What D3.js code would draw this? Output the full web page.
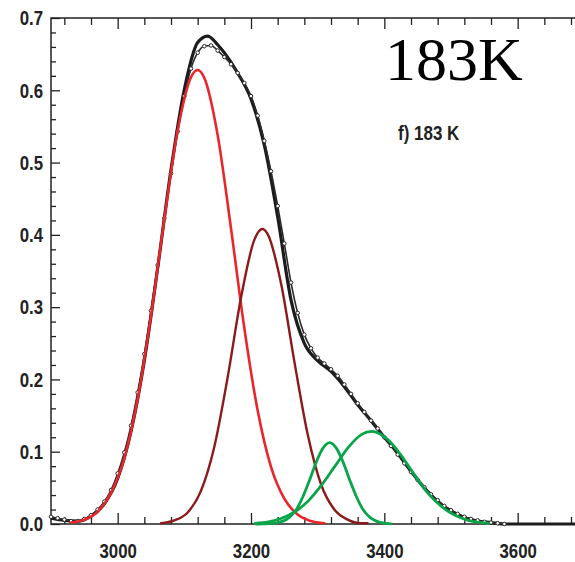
<!DOCTYPE html>
<html>
<head>
<meta charset="utf-8">
<title>183 K band fit</title>
<script src="https://d3js.org/d3.v7.min.js"></script>
<style>
  body { margin: 0; background: #fff; }
  .axis text { font-family: "Liberation Sans Narrow", "Liberation Sans", Arial, sans-serif; font-weight: bold; font-size: 20px; fill: #222; }
  .axis line { stroke: #222; stroke-width: 1.3px; }
  .axis .domain { display: none; }
</style>
</head>
<body>
<div id="cont"></div>
<script>
// fitted envelope (black line)
var fitX = [2900, 2920, 2940, 2960, 2980, 3000, 3020, 3040, 3060, 3080, 3100, 3120, 3135, 3150, 3160, 3180, 3200, 3220, 3240, 3260, 3280, 3300, 3320, 3340, 3360, 3380, 3400, 3420, 3440, 3460, 3480, 3500, 3520, 3540, 3560, 3580, 3620, 3700];
var fitY = [0.008, 0.005, 0.004, 0.011, 0.028, 0.063, 0.128, 0.226, 0.354, 0.490, 0.601, 0.666, 0.675, 0.663, 0.652, 0.624, 0.588, 0.524, 0.425, 0.310, 0.250, 0.226, 0.211, 0.190, 0.165, 0.143, 0.120, 0.098, 0.073, 0.050, 0.031, 0.018, 0.009, 0.004, 0.002, 0, 0, 0];

// measured points (open circles)
var obsX = d3.range(2900, 3590, 10);
var obsY = [0.010, 0.008, 0.006, 0.004, 0.004, 0.007, 0.012, 0.020, 0.031, 0.047,
            0.070, 0.099, 0.136, 0.182, 0.235, 0.295, 0.358, 0.423, 0.485, 0.543,
            0.592, 0.630, 0.652, 0.661, 0.662, 0.655, 0.646, 0.636, 0.624, 0.610,
            0.592, 0.565, 0.530, 0.488, 0.440, 0.388, 0.334, 0.292, 0.262, 0.243,
            0.230, 0.222, 0.214, 0.205, 0.193, 0.180, 0.167, 0.155, 0.143, 0.132,
            0.120, 0.108, 0.096, 0.084, 0.072, 0.061, 0.051, 0.041, 0.033, 0.025,
            0.019, 0.014, 0.010, 0.007, 0.005, 0.003, 0.002, 0.001, 0.000];

// component bands
var redX = [2930, 2950, 2970, 2990, 3010, 3030, 3050, 3070, 3090, 3110, 3120, 3130, 3150, 3170, 3190, 3210, 3230, 3250, 3270, 3290, 3310];
var redY = [0.002, 0.006, 0.017, 0.043, 0.091, 0.173, 0.288, 0.422, 0.544, 0.618, 0.628, 0.617, 0.538, 0.409, 0.271, 0.157, 0.079, 0.035, 0.013, 0.004, 0.001];

var brownX = [3065, 3085, 3105, 3125, 3145, 3165, 3185, 3205, 3217, 3225, 3245, 3265, 3285, 3305, 3325, 3345, 3365, 3375];
var brownY = [0.001, 0.005, 0.016, 0.046, 0.107, 0.203, 0.313, 0.393, 0.408, 0.401, 0.333, 0.225, 0.124, 0.055, 0.020, 0.006, 0.001, 0.001];

var green1X = [3208, 3228, 3248, 3258, 3268, 3278, 3288, 3298, 3308, 3318, 3328, 3338, 3348, 3358, 3368, 3378, 3388, 3398, 3410];
var green1Y = [0.000, 0.0004, 0.004, 0.0095, 0.020, 0.038, 0.061, 0.086, 0.105, 0.1125, 0.105, 0.086, 0.061, 0.038, 0.020, 0.0095, 0.004, 0.0014, 0.0003];

var green2X = [3206, 3226, 3246, 3266, 3286, 3306, 3326, 3346, 3366, 3381, 3386, 3406, 3426, 3446, 3466, 3486, 3506, 3526, 3546, 3556];
var green2Y = [0.001, 0.003, 0.008, 0.017, 0.032, 0.054, 0.080, 0.106, 0.124, 0.128, 0.1275, 0.116, 0.094, 0.067, 0.042, 0.024, 0.012, 0.005, 0.002, 0.001];

var yMajor = [0, 0.1, 0.2, 0.3, 0.4, 0.5, 0.6, 0.7];
var xMajor = [3000, 3200, 3400, 3600];

(function() {
    var W = 575, H = 562,
        left = 51, top = 18, bottom = 524,
        squeeze = 0.8;

    var x = d3.scaleLinear().domain([2900, 3700]).range([left, left + 800 * 2 / 3]);
    var y = d3.scaleLinear().domain([0, 0.7]).range([bottom, top]);

    var svg = d3.select('#cont').append('svg')
        .attr('width', W)
        .attr('height', H);

    var xMinor = d3.range(2920, 3700, 40).filter(function(v) { return v % 200 !== 0; });
    var yMinor = d3.range(0, 71, 2).filter(function(v) { return v % 10 !== 0; }).map(function(v) { return v / 100; });

    //frame
    svg.append('path')
        .attr('d', 'M' + W + ',' + top + 'H' + left + 'V' + bottom + 'H' + W)
        .attr('fill', 'none')
        .attr('stroke', '#222')
        .attr('stroke-width', 1.5);

    //bottom axis
    svg.append('g').attr('class', 'axis')
        .attr('transform', 'translate(0,' + bottom + ')')
        .call(d3.axisBottom(x).tickValues(xMinor).tickSize(-7).tickFormat(''));
    svg.append('g').attr('class', 'axis')
        .attr('transform', 'translate(0,' + bottom + ')')
        .call(d3.axisBottom(x).tickValues(xMajor).tickSize(-11).tickPadding(19).tickFormat(d3.format('d')))
        .selectAll('text')
        .style('font-size', '21px')
        .attr('transform', 'scale(' + squeeze + ',1)');

    //top axis
    svg.append('g').attr('class', 'axis')
        .attr('transform', 'translate(0,' + top + ')')
        .call(d3.axisTop(x).tickValues(xMinor).tickSize(-7).tickFormat(''));
    svg.append('g').attr('class', 'axis')
        .attr('transform', 'translate(0,' + top + ')')
        .call(d3.axisTop(x).tickValues(xMajor).tickSize(-11).tickFormat(''));

    //left axis
    svg.append('g').attr('class', 'axis')
        .attr('transform', 'translate(' + left + ',0)')
        .call(d3.axisLeft(y).tickValues(yMinor).tickSize(-5).tickFormat(''));
    svg.append('g').attr('class', 'axis')
        .attr('transform', 'translate(' + left + ',0)')
        .call(d3.axisLeft(y).tickValues(yMajor).tickSize(-9).tickPadding(10).tickFormat(d3.format('.1f')))
        .selectAll('text')
        .style('font-size', '21px')
        .attr('transform', 'scale(' + squeeze + ',1)');

    function pts(xs, ys) {
        return xs.map(function(v, i) { return [v, ys[i]]; });
    }

    var line = d3.line()
        .x(function(d) { return x(d[0]); })
        .y(function(d) { return y(d[1]); })
        .curve(d3.curveMonotoneX);

    //fit envelope
    svg.append('path')
        .attr('d', line(pts(fitX, fitY)))
        .attr('fill', 'none')
        .attr('stroke', '#1c1c1c')
        .attr('stroke-width', 3.2);

    //measured points
    svg.append('path')
        .attr('d', line(pts(obsX, obsY)))
        .attr('fill', 'none')
        .attr('stroke', '#2a2a2a')
        .attr('stroke-width', 1.6);
    svg.append('g').selectAll('circle')
        .data(pts(obsX, obsY))
        .enter()
        .append('circle')
        .attr('cx', function(d) { return x(d[0]); })
        .attr('cy', function(d) { return y(d[1]); })
        .attr('r', 1.8)
        .attr('fill', '#fff')
        .attr('stroke', '#2a2a2a')
        .attr('stroke-width', 1);

    var comps = [
        { xs: redX, ys: redY, color: '#e8262b', w: 2.6 },
        { xs: brownX, ys: brownY, color: '#8b1a1a', w: 2.4 },
        { xs: green1X, ys: green1Y, color: '#0aa54b', w: 2.8 },
        { xs: green2X, ys: green2Y, color: '#0aa54b', w: 2.8 }
    ];
    comps.forEach(function(c) {
        svg.append('path')
            .attr('d', line(pts(c.xs, c.ys)))
            .attr('fill', 'none')
            .attr('stroke', c.color)
            .attr('stroke-width', c.w)
            .attr('stroke-linecap', 'round');
    });

    //labels
    svg.append('text')
        .attr('x', 385)
        .attr('y', 80)
        .style('font-family', '"Liberation Serif", "Times New Roman", serif')
        .style('font-size', '62px')
        .attr('fill', '#000')
        .text('183K');

    svg.append('text')
        .attr('transform', 'translate(398,140) scale(0.85,1)')
        .style('font-family', '"Liberation Sans Narrow", "Liberation Sans", Arial, sans-serif')
        .style('font-weight', 'bold')
        .style('font-size', '20px')
        .attr('fill', '#222')
        .text('f) 183 K');
})();
</script>
</body>
</html>
